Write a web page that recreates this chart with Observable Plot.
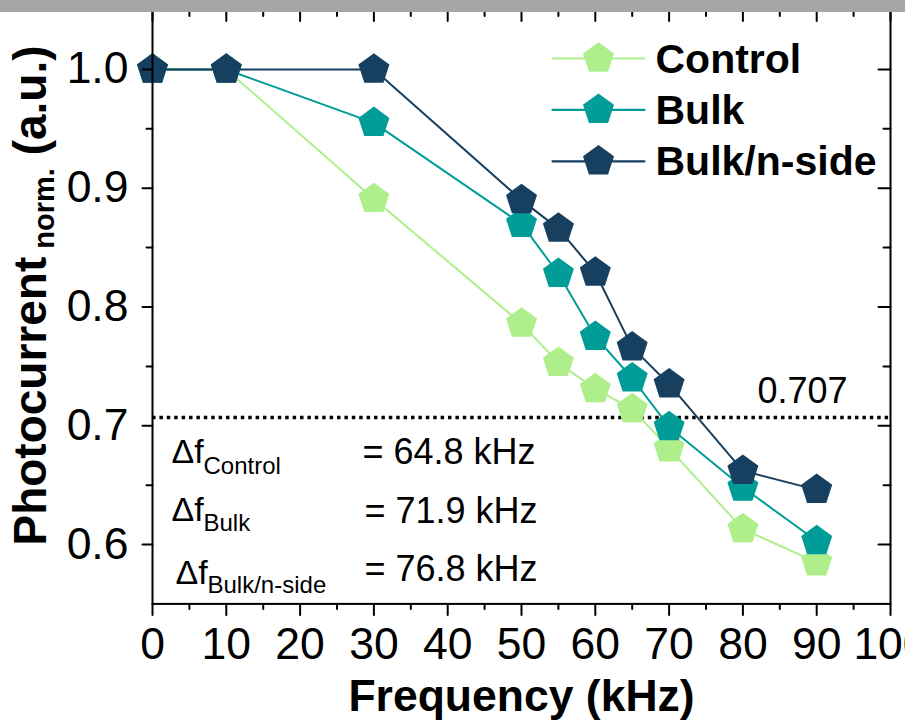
<!DOCTYPE html>
<html>
<head>
<meta charset="utf-8">
<script src="https://cdn.jsdelivr.net/npm/d3@7"></script>
<script src="https://cdn.jsdelivr.net/npm/@observablehq/plot@0.6"></script>
<style>
  html, body { margin: 0; padding: 0; background: #fff; overflow: hidden; }
  #wrap { position: relative; width: 905px; height: 720px; overflow: hidden; }
  #bar { position: absolute; left: 0; top: 0; width: 905px; height: 12px; background: #a6a6a6; z-index: 2; }
  #wrap svg { display: block; }
</style>
</head>
<body>
<div id="wrap"><div id="bar"></div></div>
<script>
// ---- data ----
const frequency = [0, 10, 30, 50, 55, 60, 65, 70, 80, 90];
const controlValues = [1.0, 1.0, 0.891, 0.786, 0.753, 0.731, 0.714, 0.681, 0.613, 0.585];
const bulkValues = [1.0, 1.0, 0.955, 0.870, 0.828, 0.775, 0.740, 0.699, 0.648, 0.603];
const bulkNSideValues = [1.0, 1.0, 1.0, 0.890, 0.866, 0.829, 0.766, 0.735, 0.662, 0.646];
const seriesNames = ["Control", "Bulk", "Bulk/n-side"];
const seriesColors = ["#aeef8c", "#009c98", "#173f60"];
const cutoffLevel = 0.707;
const cutoffLabel = "0.707";
const deltaNames = ["Control", "Bulk", "Bulk/n-side"];
const deltaValues = ["64.8", "71.9", "76.8"];
const xMajorTicks = [0, 10, 20, 30, 40, 50, 60, 70, 80, 90, 100];
const xMinorTicks = [5, 15, 25, 35, 45, 55, 65, 75, 85, 95];
const yMajorTicks = [0.6, 0.7, 0.8, 0.9, 1.0];
const yMinorTicks = [0.65, 0.75, 0.85, 0.95];
const xTitle = "Frequency (kHz)";
const yTitleParts = ["Photocurrent", "norm.", "(a.u.)"];

const allValues = [controlValues, bulkValues, bulkNSideValues];
const rows = seriesNames.map((name, i) => frequency.map((f, j) => ({name, f, v: allValues[i][j]})));

// ---- custom shapes ----
const pentagon = {
  draw(ctx, size) {
    const r = Math.sqrt(size / Math.PI);
    for (let k = 0; k < 5; k++) {
      const a = -Math.PI / 2 + k * 2 * Math.PI / 5;
      const px = r * Math.cos(a), py = r * Math.sin(a);
      if (k === 0) ctx.moveTo(px, py); else ctx.lineTo(px, py);
    }
    ctx.closePath();
  }
};
const tickShape = {
  draw(ctx, l) { ctx.moveTo(0, 0); ctx.lineTo(0, -l); }
};

const font = "Liberation Sans, Arial, Helvetica, sans-serif";
const top0 = 9.6;

const tickMarks = (data, ch, frameAnchor, rotate, length) =>
  Plot.vector(data, {[ch]: d => d, frameAnchor, rotate, length, anchor: "start",
    shape: tickShape, stroke: "black", strokeWidth: 2});

const seriesMarks = rows.flatMap((data, i) => [
  Plot.line(data, {x: "f", y: "v", stroke: seriesColors[i], strokeWidth: 2}),
  Plot.dot(data, {x: "f", y: "v", symbol: pentagon, r: 16.3, fill: seriesColors[i], stroke: "none"})
]);

const legendMarks = seriesNames.flatMap((name, i) => [
  Plot.vector([name], {frameAnchor: "top-left", dx: 400, dy: 48.4 + i * 51.4, rotate: 90, length: 92,
    anchor: "start", shape: tickShape, stroke: seriesColors[i], strokeWidth: 2.2}),
  Plot.dot([name], {frameAnchor: "top-left", dx: 446, dy: 48.4 + i * 51.4, symbol: pentagon, r: 16.3,
    fill: seriesColors[i], stroke: "none"}),
  Plot.text([name], {frameAnchor: "top-left", dx: 503, dy: 62.6 + i * 51.1, text: d => d,
    textAnchor: "start", lineAnchor: "bottom", fontSize: 41, fontWeight: "bold", fill: "black"})
]);

const deltaPos = [
  {dx: 19, base: 462, sdx: 51, sbase: 473, vdx: 210, vbase: 463},
  {dx: 19, base: 520, sdx: 51, sbase: 530, vdx: 212, vbase: 522},
  {dx: 23, base: 583, sdx: 55, sbase: 592, vdx: 212, vbase: 580}
];
const deltaMarks = deltaNames.flatMap((name, i) => {
  const p = deltaPos[i];
  return [
    Plot.text(["Δf"], {frameAnchor: "top-left", dx: p.dx, dy: p.base - top0, text: d => d,
      textAnchor: "start", lineAnchor: "bottom", fontSize: 34, fill: "black"}),
    Plot.text([name], {frameAnchor: "top-left", dx: p.sdx, dy: p.sbase - top0, text: d => d,
      textAnchor: "start", lineAnchor: "bottom", fontSize: 24, fill: "black"}),
    Plot.text([deltaValues[i]], {frameAnchor: "top-left", dx: p.vdx, dy: p.vbase - top0,
      text: d => `= ${d} kHz`, textAnchor: "start", lineAnchor: "bottom", fontSize: 36, fill: "black"})
  ];
});

const svg = Plot.plot({
  width: 905,
  height: 720,
  marginLeft: 152,
  marginRight: 15,
  marginTop: top0,
  marginBottom: 116.6,
  x: {domain: [0, 100], axis: null},
  y: {domain: [0.55, 1.05], axis: null},
  style: {fontFamily: font, background: "white", color: "black", overflow: "hidden"},
  marks: [
    Plot.ruleY([cutoffLevel], {stroke: "black", strokeWidth: 3.5, strokeDasharray: "3.5,3.9"}),
    Plot.text([cutoffLabel], {y: () => cutoffLevel, frameAnchor: "right", dx: -43, dy: -14.5, text: d => d,
      textAnchor: "end", lineAnchor: "bottom", fontSize: 36, fill: "black"}),
    ...seriesMarks,
    Plot.frame({stroke: "black", strokeWidth: 2}),
    tickMarks(xMajorTicks, "x", "bottom", 180, 11),
    tickMarks(xMinorTicks, "x", "bottom", 180, 5),
    tickMarks(xMajorTicks, "x", "top", 180, 11),
    tickMarks(xMinorTicks, "x", "top", 180, 6),
    tickMarks(yMajorTicks, "y", "left", -90, 10),
    tickMarks(yMinorTicks, "y", "left", -90, 6),
    tickMarks(yMajorTicks, "y", "right", -90, 12),
    tickMarks(yMinorTicks, "y", "right", -90, 7),
    Plot.text(xMajorTicks, {x: d => d, frameAnchor: "bottom", dy: 55, text: d => String(d),
      textAnchor: "middle", lineAnchor: "bottom", fontSize: 44.5, fill: "black"}),
    Plot.text(yMajorTicks, {y: d => d, frameAnchor: "left", dx: -24, dy: 14, text: d => d3.format(".1f")(d),
      textAnchor: "end", lineAnchor: "bottom", fontSize: 44.5, fill: "black"}),
    ...legendMarks,
    ...deltaMarks,
    Plot.text([xTitle], {frameAnchor: "bottom", dy: 107, text: d => d, textAnchor: "middle",
      lineAnchor: "bottom", fontSize: 44.5, fontWeight: "bold", fill: "black"}),
    Plot.text([yTitleParts[0]], {frameAnchor: "left", dx: -107, dy: -11.5, rotate: -90, text: d => d,
      textAnchor: "middle", lineAnchor: "bottom", fontSize: 46, fontWeight: "bold", fill: "black",
      className: "ytitle"})
  ]
});
document.getElementById("wrap").appendChild(svg);

// y title with subscript
const yt = svg.querySelector(".ytitle text");
if (yt) {
  const sel = d3.select(yt);
  sel.text(null);
  sel.append("tspan").text(yTitleParts[0]);
  sel.append("tspan").attr("font-size", 29).attr("dy", 8).text(" " + yTitleParts[1]);
  sel.append("tspan").attr("font-size", 46).attr("dy", -8).text(" " + yTitleParts[2]);
}
</script>
</body>
</html>
